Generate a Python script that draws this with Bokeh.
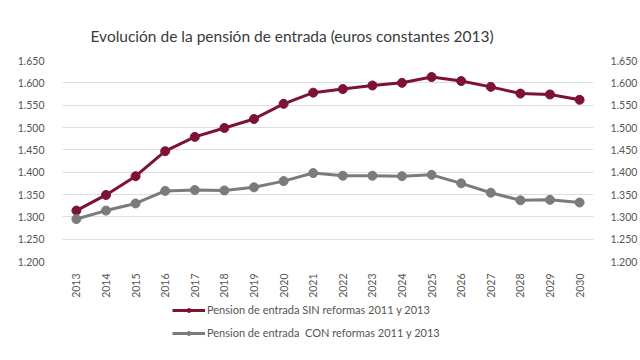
from bokeh.plotting import figure
from bokeh.models import Range1d, FixedTicker, LinearAxis, Legend, LegendItem
from bokeh.layouts import column
from bokeh.embed import file_html
from bokeh.resources import INLINE
import math

years = list(range(2013, 2031))
sin_reformas = [1314, 1349, 1391, 1447, 1479, 1499, 1519, 1553, 1578, 1586,
                1594, 1600, 1613, 1604, 1591, 1576, 1574, 1562]
con_reformas = [1295, 1314, 1330, 1358, 1360, 1359, 1366, 1380, 1398, 1392,
                1392, 1391, 1394, 1375, 1354, 1337, 1338, 1332]
y_ticks = [1200, 1250, 1300, 1350, 1400, 1450, 1500, 1550, 1600, 1650]
y_tick_labels = ["1.200", "1.250", "1.300", "1.350", "1.400", "1.450",
                 "1.500", "1.550", "1.600", "1.650"]
title_text = "Evolución de la pensión de entrada (euros constantes 2013)"
label_sin = "Pension de entrada SIN reformas 2011 y 2013"
label_con = "Pension de entrada  CON reformas 2011 y 2013"

SIN_COLOR = "#7d1232"
CON_COLOR = "#7b7b7b"
TEXT_COLOR = "#555555"
FONT = "Lato"

p = figure(width=640, height=300, output_backend="svg", toolbar_location=None,
           x_range=Range1d(2012.53, 2030.47), y_range=Range1d(1200, 1650),
           min_border_left=62, min_border_right=45, min_border_top=60,
           min_border_bottom=38, y_axis_location="left")
p.outline_line_color = None
p.background_fill_color = "white"
p.border_fill_color = "white"

p.title.text = title_text
p.title.text_font = FONT
p.title.text_font_size = "15.5px"
p.title.text_font_style = "normal"
p.title.text_color = "#3a3a3a"
p.title.offset = 28
p.title.standoff = 32

overrides = {t: l for t, l in zip(y_ticks, y_tick_labels)}

def style_y(ax, standoff):
    ax.ticker = FixedTicker(ticks=y_ticks)
    ax.major_label_overrides = overrides
    ax.axis_line_color = None
    ax.major_tick_line_color = None
    ax.minor_tick_line_color = None
    ax.major_label_text_font = FONT
    ax.major_label_text_font_size = "10.5px"
    ax.major_label_text_color = TEXT_COLOR
    ax.major_label_standoff = standoff

style_y(p.yaxis[0], 12)
right_axis = LinearAxis()
style_y(right_axis, 11)
p.add_layout(right_axis, "right")

xa = p.xaxis[0]
xa.ticker = FixedTicker(ticks=years)
xa.major_label_overrides = {y: str(y) for y in years}
xa.axis_line_color = None
xa.major_tick_line_color = None
xa.minor_tick_line_color = None
xa.major_label_orientation = math.pi / 2
xa.major_label_text_font = FONT
xa.major_label_text_font_size = "10.5px"
xa.major_label_text_color = TEXT_COLOR
xa.major_label_standoff = 6

p.xgrid.grid_line_color = None
p.ygrid.ticker = FixedTicker(ticks=y_ticks)
p.ygrid.grid_line_color = "#dedede"
p.ygrid.grid_line_width = 1

p.line(years, sin_reformas, line_color=SIN_COLOR, line_width=3)
p.scatter(years, sin_reformas, size=9, fill_color=SIN_COLOR, line_color=SIN_COLOR)
p.line(years, con_reformas, line_color=CON_COLOR, line_width=3)
p.scatter(years, con_reformas, size=9, fill_color=CON_COLOR, line_color=CON_COLOR)

# legend panel (series drawn out of view; only their legend swatches show)
q = figure(width=640, height=56, output_backend="svg", toolbar_location=None,
           x_range=Range1d(0, 1), y_range=Range1d(0, 1),
           x_axis_type=None, y_axis_type=None,
           min_border_left=0, min_border_right=0, min_border_top=0,
           min_border_bottom=0)
q.outline_line_color = None
q.xgrid.visible = False
q.ygrid.visible = False
l1 = q.line(years, sin_reformas, line_color=SIN_COLOR, line_width=3)
s1 = q.scatter(years, sin_reformas, size=8, fill_color=SIN_COLOR, line_color=SIN_COLOR)
l2 = q.line(years, con_reformas, line_color=CON_COLOR, line_width=3)
s2 = q.scatter(years, con_reformas, size=8, fill_color=CON_COLOR, line_color=CON_COLOR)

legend = Legend(items=[LegendItem(label=label_sin, renderers=[l1, s1]),
                       LegendItem(label=label_con, renderers=[l2, s2])],
                location=(110, 17), orientation="vertical",
                padding=0, margin=0, spacing=10, glyph_width=33, glyph_height=10,
                label_height=10, label_standoff=2, border_line_color=None,
                background_fill_alpha=0, label_text_font=FONT,
                label_text_font_size="11px", label_text_color=TEXT_COLOR)
q.add_layout(legend, "center")

layout = column(p, q, spacing=0)
open("out.html", "w").write(file_html(layout, INLINE))
